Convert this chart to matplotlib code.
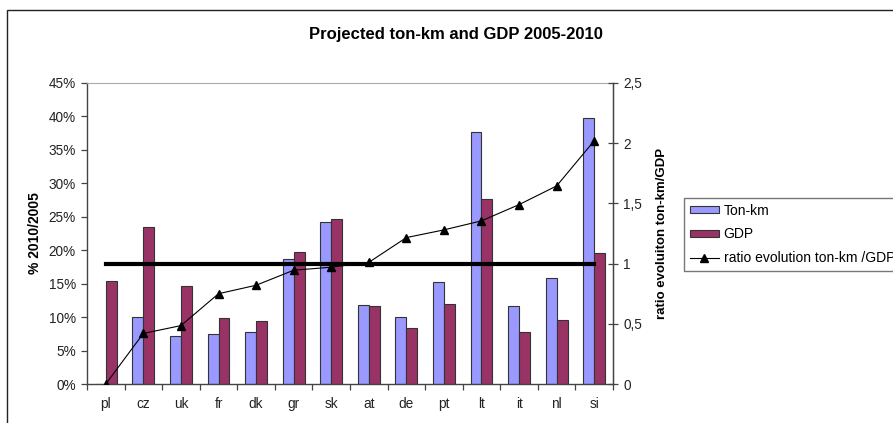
import numpy as np
import matplotlib.pyplot as plt
from matplotlib.patches import Rectangle
from matplotlib.lines import Line2D
from matplotlib.ticker import FuncFormatter, FixedLocator

plt.rcParams['font.family'] = ['Liberation Sans', 'DejaVu Sans']

countries = ['pl', 'cz', 'uk', 'fr', 'dk', 'gr', 'sk', 'at', 'de', 'pt', 'lt', 'it', 'nl', 'si']
ton_km = [0.0, 10.0, 7.2, 7.5, 7.8, 18.7, 24.2, 11.8, 10.0, 15.3, 37.6, 11.6, 15.9, 39.7]
gdp = [15.4, 23.4, 14.6, 9.9, 9.4, 19.8, 24.6, 11.6, 8.3, 12.0, 27.6, 7.8, 9.6, 19.6]
ratio = [0.0, 0.42, 0.485, 0.75, 0.82, 0.945, 0.97, 1.01, 1.216, 1.28, 1.355, 1.49, 1.645, 2.02]
baseline = [1.0] * len(countries)

blue = '#9999FF'
plum = '#993366'
tick_fs = 9.8

fig = plt.figure(figsize=(8.93, 4.23), dpi=100)
ax = fig.add_axes([87 / 893, 1 - 384 / 423, (613 - 87) / 893, (384 - 83) / 423])

x = np.arange(len(countries))
w = 0.29
ax.bar(x - w / 2, ton_km, w, color=blue, edgecolor='#333333', linewidth=0.8, label='Ton-km')
ax.bar(x + w / 2, gdp, w, color=plum, edgecolor='#333333', linewidth=0.8, label='GDP')

ax.set_xlim(-0.5, len(countries) - 0.5)
ax.set_ylim(0, 45)
ax.set_yticks(np.arange(0, 46, 5))
ax.yaxis.set_major_formatter(FuncFormatter(lambda v, p: f'{v:.0f}%'))
ax.set_xticks(x)
ax.set_xticklabels(countries)
ax.xaxis.set_minor_locator(FixedLocator(np.arange(-0.5, len(countries), 1.0)))
ax.tick_params(axis='x', which='major', length=0, pad=9, labelsize=tick_fs, colors='#222222')
ax.tick_params(axis='x', which='minor', length=4, width=0.9, direction='out', color='#444444')
ax.tick_params(axis='y', length=4, width=0.9, direction='out', labelsize=tick_fs, color='#444444',
               labelcolor='#222222', pad=4)
ax.set_ylabel('% 2010/2005', fontsize=10, fontweight='bold', labelpad=5)
for side in ['left', 'bottom']:
    ax.spines[side].set_color('#444444')
    ax.spines[side].set_linewidth(1.0)
ax.spines['top'].set_color('#aaaaaa')
ax.spines['top'].set_linewidth(0.8)

# secondary axis with the ton-km/GDP ratio
ax2 = ax.twinx()
ax2.plot(x, baseline, color='black', linewidth=3)
ax2.plot(x, ratio, color='black', linewidth=0.8, marker='^', markersize=5.5,
         label='ratio evolution ton-km /GDP')
ax2.set_ylim(0, 2.5)
ax2.set_yticks(np.arange(0, 2.51, 0.5))
ax2.yaxis.set_major_formatter(FuncFormatter(lambda v, p: f'{v:g}'.replace('.', ',')))
ax2.tick_params(axis='y', length=7, width=0.9, direction='inout', labelsize=tick_fs, color='#444444',
                labelcolor='#222222', pad=4)
ax2.set_ylabel('ratio evoluiton ton-km/GDP', fontsize=9.5, fontweight='bold', labelpad=10)
ax2.spines['right'].set_color('#444444')
ax2.spines['right'].set_linewidth(1.0)
ax2.spines['top'].set_visible(False)
ax2.spines['left'].set_visible(False)
ax2.spines['bottom'].set_visible(False)

fig.text(456 / 893, 1 - 35 / 423, 'Projected ton-km and GDP 2005-2010', ha='center', va='center',
         fontsize=12, fontweight='bold')

# outer chart frame
fig.add_artist(Rectangle((7 / 893, -0.1), 1.2, 1 - 10 / 423 + 0.1, transform=fig.transFigure,
                         fill=False, edgecolor='#222222', linewidth=1.0, clip_on=False))

handles = [
    Rectangle((0, 0), 1, 1, facecolor=blue, edgecolor='#333333', linewidth=0.8),
    Rectangle((0, 0), 1, 1, facecolor=plum, edgecolor='#333333', linewidth=0.8),
    Line2D([], [], color='black', linewidth=0.8, marker='^', markersize=5.5),
]
labels = ['Ton-km', 'GDP', 'ratio evolution ton-km /GDP']
fig.legend(handles, labels, loc='upper left', bbox_to_anchor=(684 / 893, 1 - 198 / 423),
           frameon=True, fancybox=False, edgecolor='#555555', fontsize=10, handlelength=2.1,
           handleheight=0.45, handletextpad=0.35, borderpad=0.4, labelspacing=0.7,
           borderaxespad=0)

fig.savefig('out.png', dpi=100)
